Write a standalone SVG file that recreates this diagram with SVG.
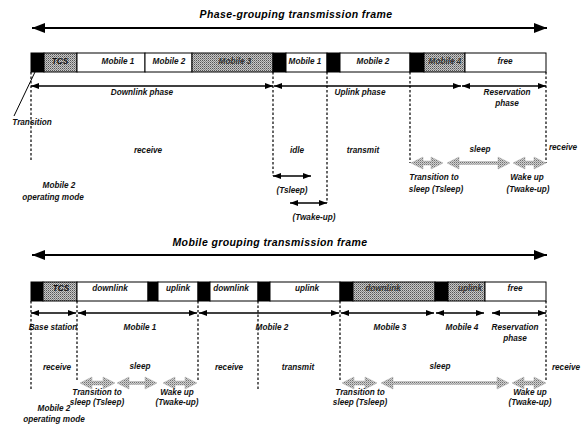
<svg xmlns="http://www.w3.org/2000/svg" width="582" height="440" viewBox="0 0 582 440">
<defs>
<pattern id="dither" width="2" height="2" patternUnits="userSpaceOnUse">
<rect width="2" height="2" fill="#c8c8c8"/>
<rect width="1" height="1" fill="#555"/>
<rect x="1" y="1" width="1" height="1" fill="#888"/>
</pattern>
<pattern id="dither2" width="2" height="2" patternUnits="userSpaceOnUse">
<rect width="2" height="2" fill="#d0d0d0"/>
<rect width="1" height="1" fill="#707070"/>
<rect x="1" y="1" width="1" height="1" fill="#a0a0a0"/>
</pattern>
<marker id="ah" viewBox="0 0 8 6" markerWidth="8" markerHeight="6" refX="8" refY="3" orient="auto-start-reverse" markerUnits="userSpaceOnUse">
<path d="M0,0 L8,3 L0,6 z" fill="#000"/>
</marker>
<marker id="big" viewBox="0 0 13 10" markerWidth="13" markerHeight="10" refX="13" refY="5" orient="auto-start-reverse" markerUnits="userSpaceOnUse">
<path d="M0,0 L13,5 L0,10 z" fill="#000"/>
</marker>
</defs>
<style>
text{font-family:"Liberation Sans",Arial,sans-serif;font-style:italic;font-weight:bold;font-size:8.2px;fill:#111;text-anchor:middle}
.title{font-size:10.5px;fill:#000;letter-spacing:0.4px}
.seg{stroke:#000;stroke-width:1}
.white{fill:#fff}
.black{fill:#000}
.hatch{fill:url(#dither)}
.dim{fill:#333}
.dash{stroke:#000;stroke-width:1.2;stroke-dasharray:2.5,2;fill:none}
.arr{stroke:#000;stroke-width:1.3;fill:none;marker-start:url(#ah);marker-end:url(#ah)}
.barr{stroke:#000;stroke-width:2.2;fill:none;marker-start:url(#big);marker-end:url(#big)}
.fat{fill:url(#dither2);stroke:#aaa;stroke-width:0.5}
</style>

<!-- Titles -->
<g id="title-top"><text class="title" x="296" y="18">Phase-grouping transmission frame</text></g>
<g id="title-bottom"><text class="title" x="270" y="246">Mobile grouping transmission frame</text></g>

<!-- Top frame bar -->
<g id="top-transition"><rect class="seg black" x="31" y="53" width="13" height="19"/></g>
<g id="top-tcs"><rect class="seg hatch" x="44" y="53" width="33" height="19"/><text x="60" y="64">TCS</text></g>
<g id="top-m1"><rect class="seg white" x="77" y="53" width="68" height="19"/><text x="118" y="64">Mobile 1</text></g>
<g id="top-m2"><rect class="seg white" x="145" y="53" width="47" height="19"/><text x="169" y="64">Mobile 2</text></g>
<g id="top-m3"><rect class="seg hatch" x="192" y="53" width="81" height="19"/><text class="dim" x="235" y="64">Mobile 3</text></g>
<g id="top-g1"><rect class="seg black" x="273" y="53" width="13" height="19"/></g>
<g id="top-um1"><rect class="seg white" x="286" y="53" width="41" height="19"/><text x="305" y="64">Mobile 1</text></g>
<g id="top-g2"><rect class="seg black" x="327" y="53" width="13" height="19"/></g>
<g id="top-um2"><rect class="seg white" x="340" y="53" width="70" height="19"/><text x="373" y="64">Mobile 2</text></g>
<g id="top-g3"><rect class="seg black" x="410" y="53" width="14" height="19"/></g>
<g id="top-um4"><rect class="seg hatch" x="424" y="53" width="41" height="19"/><text class="dim" x="445" y="64">Mobile 4</text></g>
<g id="top-free"><rect class="seg white" x="465" y="53" width="81" height="19"/><text x="505" y="64">free</text></g>

<!-- Bottom frame bar -->
<g id="bot-bs"><rect class="seg black" x="31" y="282" width="12" height="19"/></g>
<g id="bot-tcs"><rect class="seg hatch" x="43" y="282" width="34" height="19"/><text x="61" y="291">TCS</text></g>
<g id="bot-m1dl"><rect class="seg white" x="77" y="282" width="71" height="19"/><text x="110" y="291">downlink</text></g>
<g id="bot-g1"><rect class="seg black" x="148" y="282" width="10" height="19"/></g>
<g id="bot-m1ul"><rect class="seg white" x="158" y="282" width="40" height="19"/><text x="178" y="291">uplink</text></g>
<g id="bot-g2"><rect class="seg black" x="198" y="282" width="12" height="19"/></g>
<g id="bot-m2dl"><rect class="seg white" x="210" y="282" width="48" height="19"/><text x="231" y="291">downlink</text></g>
<g id="bot-g3"><rect class="seg black" x="258" y="282" width="12" height="19"/></g>
<g id="bot-m2ul"><rect class="seg white" x="270" y="282" width="70" height="19"/><text x="307" y="291">uplink</text></g>
<g id="bot-g4"><rect class="seg black" x="340" y="282" width="13" height="19"/></g>
<g id="bot-m3dl"><rect class="seg hatch" x="353" y="282" width="82" height="19"/><text class="dim" x="383" y="291">downlink</text></g>
<g id="bot-g5"><rect class="seg black" x="435" y="282" width="13" height="19"/></g>
<g id="bot-m4ul"><rect class="seg hatch" x="448" y="282" width="37" height="19"/><text class="dim" x="470" y="291">uplink</text></g>
<g id="bot-free"><rect class="seg white" x="485" y="282" width="61" height="19"/><text x="515" y="291">free</text></g>

<!-- Connectors -->
<g id="connectors">
<line class="barr" x1="32" y1="28" x2="547" y2="28"/>
<line class="barr" x1="32" y1="255" x2="547" y2="255"/>
<!-- top phase arrows -->
<line class="arr" x1="31" y1="86" x2="273" y2="86"/>
<line class="arr" x1="274" y1="86" x2="461" y2="86"/>
<line class="arr" x1="462" y1="86" x2="546" y2="86"/>
<!-- top dashed -->
<line class="dash" x1="31" y1="72" x2="31" y2="160"/>
<line class="dash" x1="273" y1="72" x2="273" y2="176"/>
<line class="dash" x1="327" y1="72" x2="327" y2="203"/>
<line class="dash" x1="410" y1="72" x2="410" y2="163"/>
<line class="dash" x1="546" y1="72" x2="546" y2="163"/>
<line x1="14" y1="116" x2="35" y2="72" stroke="#000" stroke-width="1"/>
<!-- Tsleep / Twake-up -->
<line class="arr" x1="273" y1="176" x2="311" y2="176"/>
<line class="arr" x1="290" y1="203" x2="327" y2="203"/>
<!-- top fat hatched arrows -->
<polygon class="fat" points="411,163 423,157 423,161 431,161 431,157 443,163 431,169 431,165 423,165 423,169"/>
<polygon class="fat" points="447,163 459,157 459,161.5 498,161.5 498,157 510,163 498,169 498,164.5 459,164.5 459,169"/>
<polygon class="fat" points="513,163 525,157 525,161 534,161 534,157 546,163 534,169 534,165 525,165 525,169"/>
<!-- bottom mobile arrows -->
<line class="arr" x1="31" y1="313" x2="76" y2="313"/>
<line class="arr" x1="78" y1="313" x2="197" y2="313"/>
<line class="arr" x1="199" y1="313" x2="339" y2="313"/>
<line class="arr" x1="341" y1="313" x2="434" y2="313"/>
<line class="arr" x1="436" y1="313" x2="484" y2="313"/>
<line class="arr" x1="492" y1="313" x2="546" y2="313"/>
<!-- bottom dashed -->
<line class="dash" x1="31" y1="301" x2="31" y2="390"/>
<line class="dash" x1="77" y1="301" x2="77" y2="381"/>
<line class="dash" x1="198" y1="301" x2="198" y2="381"/>
<line class="dash" x1="258" y1="301" x2="258" y2="390"/>
<line class="dash" x1="340" y1="301" x2="340" y2="382"/>
<line class="dash" x1="546" y1="301" x2="546" y2="382"/>
<!-- bottom fat hatched arrows, mobile 1 -->
<polygon class="fat" points="80,383 92,377 92,381 103,381 103,377 115,383 103,389 103,385 92,385 92,389"/>
<polygon class="fat" points="117,383 129,377 129,381.5 145,381.5 145,377 157,383 145,389 145,384.5 129,384.5 129,389"/>
<polygon class="fat" points="163,383 175,377 175,381 185,381 185,377 197,383 185,389 185,385 175,385 175,389"/>
<!-- bottom fat hatched arrows, mobile 2 -->
<polygon class="fat" points="342,383 354,377 354,381 365,381 365,377 377,383 365,389 365,385 354,385 354,389"/>
<polygon class="fat" points="381,383 393,377 393,381.5 497,381.5 497,377 509,383 497,389 497,384.5 393,384.5 393,389"/>
<polygon class="fat" points="512,383 524,377 524,381 534,381 534,377 546,383 534,389 534,385 524,385 524,389"/>
</g>

<!-- Top labels -->
<g id="top-labels">
<text x="142" y="95">Downlink phase</text>
<text x="360" y="95">Uplink phase</text>
<text x="507" y="95">Reservation</text>
<text x="507" y="106">phase</text>
<text x="32" y="125">Transition</text>
<text x="148" y="153">receive</text>
<text x="297" y="153">idle</text>
<text x="363" y="153">transmit</text>
<text x="480" y="152">sleep</text>
<text x="563" y="150">receive</text>
<text x="292" y="193">(Tsleep)</text>
<text x="314" y="220">(Twake-up)</text>
<text x="434" y="180">Transition to</text>
<text x="436" y="192">sleep (Tsleep)</text>
<text x="527" y="180">Wake up</text>
<text x="528" y="192">(Twake-up)</text>
<text x="59" y="188">Mobile 2</text>
<text x="53" y="200">operating mode</text>
</g>

<!-- Bottom labels -->
<g id="bottom-labels">
<text x="53" y="330">Base station</text>
<text x="140" y="330">Mobile 1</text>
<text x="272" y="330">Mobile 2</text>
<text x="390" y="330">Mobile 3</text>
<text x="462" y="330">Mobile 4</text>
<text x="515" y="330">Reservation</text>
<text x="515" y="341">phase</text>
<text x="57" y="370">receive</text>
<text x="140" y="369">sleep</text>
<text x="229" y="370">receive</text>
<text x="298" y="370">transmit</text>
<text x="440" y="369">sleep</text>
<text x="566" y="370">receive</text>
<text x="97" y="395">Transition to</text>
<text x="97" y="405">sleep (Tsleep)</text>
<text x="177" y="395">Wake up</text>
<text x="177" y="405">(Twake-up)</text>
<text x="360" y="395">Transition to</text>
<text x="360" y="405">sleep (Tsleep)</text>
<text x="530" y="395">Wake up</text>
<text x="530" y="405">(Twake-up)</text>
<text x="54" y="411">Mobile 2</text>
<text x="54" y="422">operating mode</text>
</g>
</svg>
